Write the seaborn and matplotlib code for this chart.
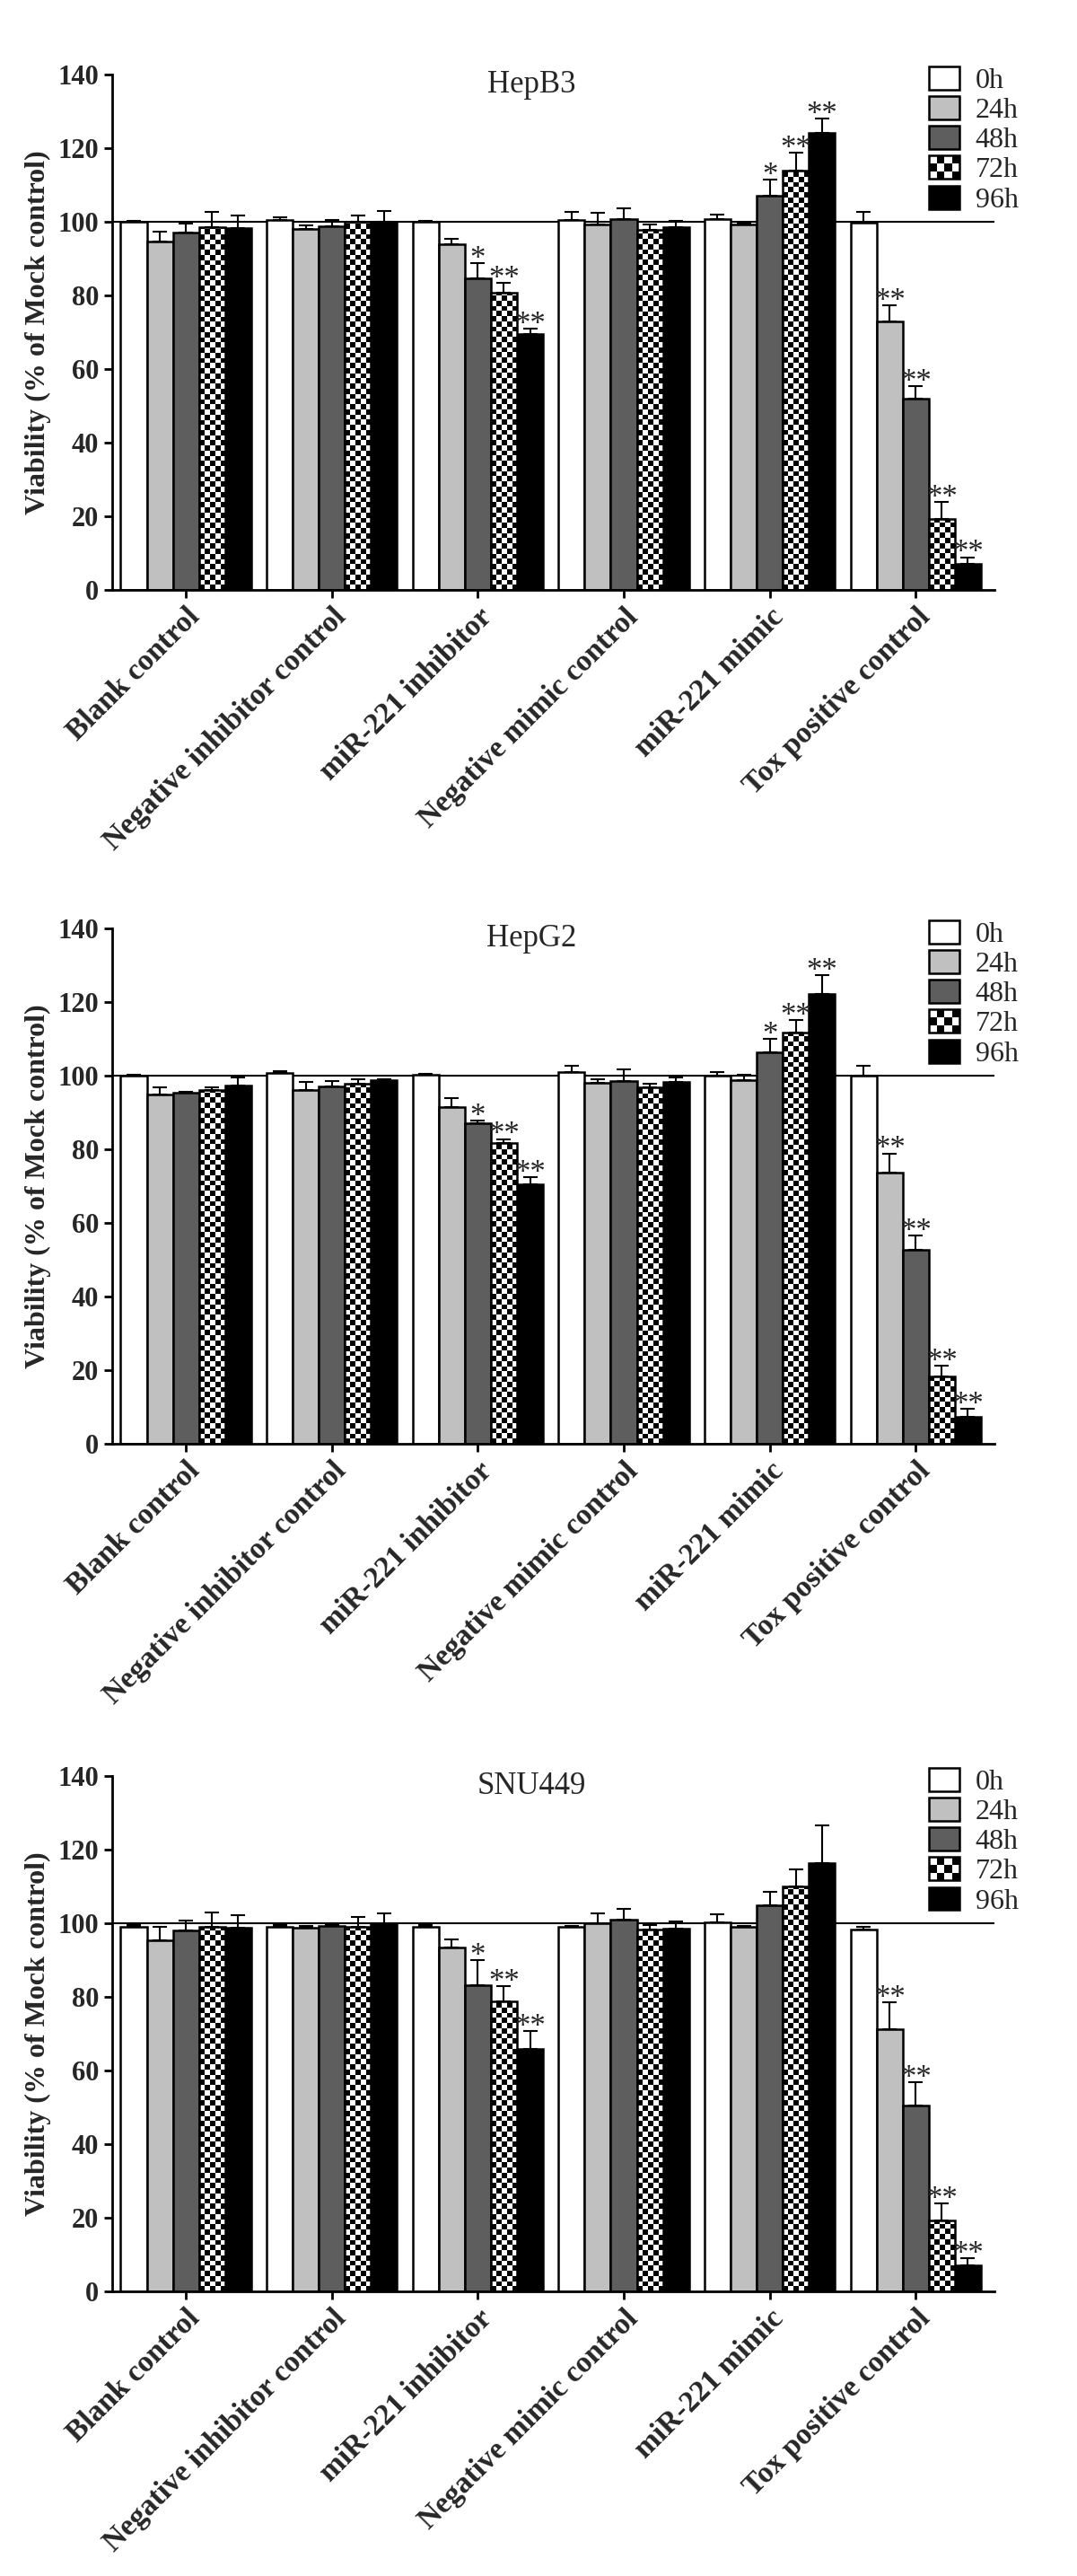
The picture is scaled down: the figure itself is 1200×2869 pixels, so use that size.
import numpy as np
import pandas as pd
import matplotlib
matplotlib.use('Agg')
import matplotlib.pyplot as plt
import seaborn as sns
from matplotlib.patches import Patch, Rectangle
from matplotlib.legend_handler import HandlerBase

sns.set_style('ticks')
plt.rcParams['font.family'] = ['Liberation Serif', 'DejaVu Serif']

groups = ['Blank control', 'Negative inhibitor control', 'miR-221 inhibitor',
          'Negative mimic control', 'miR-221 mimic', 'Tox positive control']
times = ['0h', '24h', '48h', '72h', '96h']
colors = ['#ffffff', '#c0c0c0', '#5e5e5e', '#ffffff', '#000000']
titles = ['HepB3', 'HepG2', 'SNU449']

# rows = time point, columns = treatment group
hepb3_mean = [
    [100.0, 100.4, 100.0, 100.5, 100.8, 99.7],
    [94.6, 98.0, 93.8, 99.3, 99.3, 72.9],
    [97.0, 98.7, 84.7, 100.8, 107.0, 52.0],
    [98.5, 99.9, 80.8, 97.9, 113.9, 19.3],
    [98.2, 100.0, 69.4, 98.5, 124.2, 7.0],
]
hepb3_sem = [
    [0.3, 0.7, 0.3, 2.2, 1.2, 3.0],
    [2.7, 1.0, 1.6, 3.1, 0.3, 4.5],
    [2.4, 1.7, 4.1, 2.8, 4.4, 3.4],
    [4.1, 1.9, 2.5, 1.3, 4.9, 4.5],
    [3.4, 2.8, 1.5, 1.8, 3.8, 1.9],
]
hepg2_mean = [
    [100.0, 100.7, 100.2, 101.1, 99.9, 99.9],
    [94.8, 96.2, 91.5, 98.0, 98.7, 73.6],
    [95.3, 97.1, 87.0, 98.6, 106.4, 52.7],
    [96.1, 97.9, 81.7, 96.8, 111.8, 18.3],
    [97.2, 98.8, 70.4, 98.2, 122.2, 7.3],
]
hepg2_sem = [
    [0.3, 0.5, 0.3, 1.7, 1.2, 2.7],
    [2.1, 2.2, 2.5, 1.0, 1.5, 5.3],
    [0.4, 1.5, 0.9, 3.0, 3.7, 3.9],
    [0.8, 1.1, 1.1, 1.1, 3.4, 2.9],
    [2.3, 0.3, 2.0, 1.4, 5.2, 2.3],
]
snu449_mean = [
    [99.1, 99.1, 99.1, 99.0, 100.3, 98.2],
    [95.3, 98.8, 93.5, 99.9, 99.0, 71.3],
    [98.0, 99.3, 83.1, 101.0, 104.8, 50.5],
    [99.1, 99.1, 78.7, 98.2, 109.9, 19.3],
    [98.8, 99.8, 65.8, 98.6, 116.4, 7.1],
]
snu449_sem = [
    [0.3, 0.3, 0.5, 0.2, 2.1, 0.8],
    [3.6, 0.4, 2.0, 2.8, 0.2, 7.3],
    [2.8, 0.2, 6.8, 2.8, 3.7, 6.3],
    [3.9, 2.6, 4.1, 1.3, 4.6, 4.5],
    [3.4, 2.9, 4.8, 1.8, 10.1, 1.9],
]
stars_full = [
    ['', '', '', '', '', ''],
    ['', '', '', '', '', '**'],
    ['', '', '*', '', '*', '**'],
    ['', '', '**', '', '**', '**'],
    ['', '', '**', '', '**', '**'],
]
stars_snu = [
    ['', '', '', '', '', ''],
    ['', '', '', '', '', '**'],
    ['', '', '*', '', '', '**'],
    ['', '', '**', '', '', '**'],
    ['', '', '**', '', '', '**'],
]

panels = [
    (hepb3_mean, hepb3_sem, stars_full),
    (hepg2_mean, hepg2_sem, stars_full),
    (snu449_mean, snu449_sem, stars_snu),
]


def add_checker(ax, bar, ncols=5, cell_h=1.4):
    x0, w, h = bar.get_x(), bar.get_width(), bar.get_height()
    nrows = int(np.ceil(h / cell_h))
    grid = (np.add.outer(np.arange(nrows), np.arange(ncols)) % 2).astype(float)
    im = ax.imshow(grid, cmap='gray', vmin=0, vmax=1, origin='lower',
                   interpolation='nearest', aspect='auto', zorder=1.5,
                   extent=[x0, x0 + w, 0, nrows * cell_h])
    im.set_clip_path(bar)
    bar.set_facecolor('none')
    bar.set_zorder(2)


class HandlerChecker(HandlerBase):
    def create_artists(self, legend, orig_handle, xdescent, ydescent,
                       width, height, fontsize, trans):
        x0, y0 = -xdescent, -ydescent
        arts = [Rectangle((x0, y0), width, height, facecolor='white',
                          edgecolor='none', transform=trans)]
        nc, nr = 4, 3
        cw, ch = width / nc, height / nr
        for i in range(nr):
            for j in range(nc):
                if (i + j) % 2 == 1:
                    arts.append(Rectangle((x0 + j * cw, y0 + i * ch), cw, ch,
                                          facecolor='black', edgecolor='none',
                                          transform=trans))
        arts.append(Rectangle((x0, y0), width, height, facecolor='none',
                              edgecolor='black', lw=1.8, transform=trans))
        return arts


fig = plt.figure(figsize=(12, 28.69), dpi=100)
bottoms = [0.7710, 0.4395, 0.1105]

for (means, sems, stars), title, bottom in zip(panels, titles, bottoms):
    ax = fig.add_axes([0.1042, bottom, 0.8192, 0.2001])
    rows = []
    for ti, t in enumerate(times):
        for gi, g in enumerate(groups):
            rows.append((g, t, means[ti][gi]))
    df = pd.DataFrame(rows, columns=['group', 'time', 'value'])

    sns.barplot(data=df, x='group', y='value', hue='time', order=groups,
                hue_order=times, palette=colors, saturation=1, width=0.894,
                edgecolor='black', linewidth=1.8, errorbar=None, legend=False,
                ax=ax)
    ax.axhline(100, color='black', lw=1.5, zorder=0.5)

    bar_conts = list(ax.containers)
    for ti, cont in enumerate(bar_conts):
        xs = [b.get_x() + b.get_width() / 2 for b in cont]
        hs = [b.get_height() for b in cont]
        ax.errorbar(xs, hs, yerr=[np.zeros(len(hs)), sems[ti]], fmt='none',
                    ecolor='black', elinewidth=1.5, capsize=6, capthick=1.5,
                    zorder=3)
        for x, h, e, s in zip(xs, hs, sems[ti], stars[ti]):
            if s:
                ax.text(x, h + e - 1.2, s, ha='center', va='baseline',
                        fontsize=25)
        if times[ti] == '72h':
            for b in cont:
                add_checker(ax, b)

    ax.set_xlim(-0.505, 5.54)
    ax.set_ylim(0, 140)
    ax.set_yticks(range(0, 141, 20), labels=[str(v) for v in range(0, 141, 20)],
                  fontsize=22, fontweight='bold')
    ax.set_xticks(range(len(groups)), labels=groups, rotation=45, ha='right',
                  rotation_mode='anchor', fontsize=24, fontweight='bold')
    ax.tick_params(axis='both', width=2, length=6.5, color='black', pad=4)
    ax.set_xlabel('')
    ax.set_ylabel('Viability (% of Mock control)', fontsize=23, fontweight='bold')
    ax.yaxis.set_label_coords(-0.069, 0.5)
    for side in ['top', 'right']:
        ax.spines[side].set_visible(False)
    for side in ['left', 'bottom']:
        ax.spines[side].set_linewidth(2)
        ax.spines[side].set_color('black')

    ax.text(0.4756, 0.965, title, transform=ax.transAxes, ha='center',
            va='baseline', fontsize=25)

    handles = [Patch(facecolor=c, edgecolor='black', lw=1.8) for c in colors]
    ax.legend(handles, times, loc='upper left', bbox_to_anchor=(0.9257, 1.016),
              frameon=False, fontsize=23, handlelength=1.07, handleheight=0.87,
              labelspacing=0.07, handletextpad=0.55, borderpad=0,
              borderaxespad=0, handler_map={handles[3]: HandlerChecker()})

fig.savefig('out.png', dpi=100)
